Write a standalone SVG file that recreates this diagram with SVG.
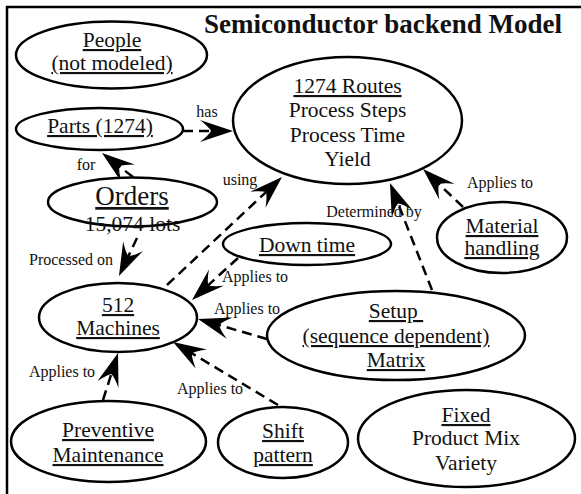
<svg xmlns="http://www.w3.org/2000/svg" width="581" height="494" viewBox="0 0 581 494">
<style>
.n{fill:#fff;stroke:#000;stroke-width:2.5}
.t{font-family:"Liberation Serif","Times New Roman",serif;font-size:21.5px;fill:#111;text-anchor:middle}
.u{text-decoration:underline}
.big{font-size:27px}
.l{font-family:"Liberation Serif","Times New Roman",serif;font-size:16px;fill:#111;text-anchor:middle}
.c{fill:none;stroke:#000;stroke-width:2.5;stroke-dasharray:10 6;marker-end:url(#ah)}
.title{font-family:"Liberation Serif","Times New Roman",serif;font-size:27px;font-weight:bold;fill:#111}
</style>
<defs>
<marker id="ah" markerUnits="userSpaceOnUse" viewBox="-26 -12 36 24" markerWidth="36" markerHeight="24" refX="0" refY="0" orient="auto">
<path d="M8,0 L-25,-11 Q-16,-4 -14,0 Q-16,4 -25,11 Z" fill="#000"/>
</marker>
</defs>
<rect x="7" y="7" width="640" height="560" fill="#fff" stroke="#000" stroke-width="2.5"/>
<text class="title" x="204" y="33">Semiconductor backend Model</text>

<g id="connectors">
<line class="c" x1="183" y1="131" x2="225" y2="131"/>
<line class="c" x1="133" y1="177" x2="108.3" y2="157.9"/>
<line class="c" x1="137" y1="238" x2="122.4" y2="268.8"/>
<line class="c" x1="167" y1="285" x2="276.2" y2="182.5"/>
<line class="c" x1="238" y1="258" x2="197.9" y2="294.6"/>
<line class="c" x1="267" y1="339" x2="205.7" y2="321.2"/>
<line class="c" x1="278" y1="405" x2="179.9" y2="346.1"/>
<line class="c" x1="103" y1="400" x2="115.6" y2="360.6"/>
<line class="c" x1="432" y1="290" x2="392.9" y2="190.4"/>
<line class="c" x1="463" y1="207" x2="428.8" y2="174.5"/>
<text class="l" x="207" y="117">has</text>
<text class="l" x="86" y="170">for</text>
<text class="l" x="71" y="265">Processed on</text>
<text class="l" x="240" y="185">using</text>
<text class="l" x="255" y="282">Applies to</text>
<text class="l" x="247" y="314">Applies to</text>
<text class="l" x="210" y="394">Applies to</text>
<text class="l" x="62" y="377">Applies to</text>
<text class="l" x="374" y="217">Determined by</text>
<text class="l" x="500" y="188">Applies to</text>
</g>

<g id="people">
<ellipse class="n" cx="111.5" cy="55" rx="95.5" ry="33.5"/>
<text class="t u" x="112" y="47">People</text>
<text class="t u" x="112" y="70">(not modeled)</text>
</g>
<g id="parts">
<ellipse class="n" cx="99.5" cy="129" rx="83.5" ry="21"/>
<text class="t u" x="100" y="133">Parts (1274)</text>
</g>
<g id="orders">
<ellipse class="n" cx="132.5" cy="202" rx="84.5" ry="24.5"/>
<text class="t u big" x="132" y="205">Orders</text>
<text class="t" x="132.5" y="231">15,074 lots</text>
</g>
<g id="routes">
<ellipse class="n" cx="347.5" cy="120.5" rx="114.5" ry="63.5"/>
<text class="t u" x="347.5" y="93">1274 Routes</text>
<text class="t" x="347.5" y="117">Process Steps</text>
<text class="t" x="347.5" y="142">Process Time</text>
<text class="t" x="347.5" y="166">Yield</text>
</g>
<g id="downtime">
<ellipse class="n" cx="307" cy="244" rx="84" ry="21"/>
<text class="t u" x="307" y="252">Down time</text>
</g>
<g id="machines">
<ellipse class="n" cx="118" cy="317.5" rx="79" ry="34.5"/>
<text class="t u" x="118" y="312">512</text>
<text class="t u" x="118" y="335">Machines</text>
</g>
<g id="material">
<ellipse class="n" cx="502" cy="237.5" rx="65" ry="35.5"/>
<text class="t u" x="502" y="233">Material</text>
<text class="t u" x="502" y="255">handling</text>
</g>
<g id="setup">
<ellipse class="n" cx="396" cy="335.5" rx="129" ry="44.5"/>
<text class="t u" x="396" y="318" xml:space="preserve">Setup&#160;</text>
<text class="t u" x="396" y="343">(sequence dependent)</text>
<text class="t u" x="396" y="367">Matrix</text>
</g>
<g id="preventive">
<ellipse class="n" cx="108.5" cy="441.5" rx="97.5" ry="40.5"/>
<text class="t u" x="108" y="437">Preventive</text>
<text class="t u" x="108" y="462">Maintenance</text>
</g>
<g id="shift">
<ellipse class="n" cx="283" cy="442.5" rx="65" ry="35.5"/>
<text class="t u" x="283" y="438">Shift</text>
<text class="t u" x="283" y="462">pattern</text>
</g>
<g id="fixed">
<ellipse class="n" cx="466.5" cy="438.5" rx="108.5" ry="48.5"/>
<text class="t u" x="466" y="422">Fixed</text>
<text class="t" x="466" y="445">Product Mix</text>
<text class="t" x="466" y="470">Variety</text>
</g>
</svg>
